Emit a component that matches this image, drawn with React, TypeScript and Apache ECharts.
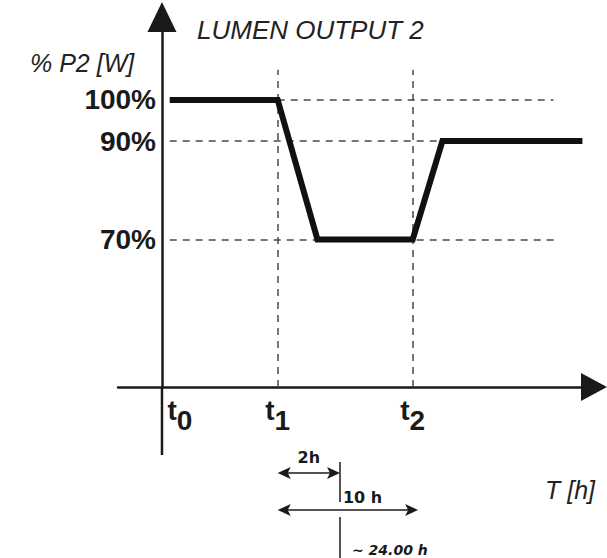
import React, { useEffect, useRef } from 'react';
import * as echarts from 'echarts';

const FONT = '"Liberation Sans", Arial, Helvetica, sans-serif';
const WIDE_FONT = '"DejaVu Sans", Verdana, sans-serif';

// schematic time axis (arbitrary units, t0 = 0)
const timePoints = [0.2, 3, 4.03, 6.5, 7.27, 10.9];
const powerLevels = [100, 100, 70, 70, 90, 90];

const yLabelValues = [70, 90, 100];
const xLabelValues = [0, 3, 6.5];
const xLabelSubs = ['0', '1', '2'];

const refLevelValues = [100, 90, 70];
const refLevelStarts = [3, 0.2, 0.2];
const refLevelEnds = [10.15, 7.27, 10.2];
const refTimeValues = [3, 6.5];
const refTimeTop = 108;

const spanStart = 3;
const spanEnds = [4.615, 6.64];
const spanLabels = ['2h', '10 h'];
const cycleLabel = '~ 24.00 h';

const X_MIN = -1.14;
const X_MAX = 11.2;
const Y_MIN = 48;
const Y_MAX = 123.6;

function arrowHead(tipX: number, y: number, dir: number) {
  const L = 13;
  const H = 6;
  const N = 3;
  return {
    type: 'polygon',
    shape: {
      points: [
        [tipX, y],
        [tipX - dir * L, y - H],
        [tipX - dir * (L - N), y],
        [tipX - dir * L, y + H],
      ],
    },
    style: { fill: '#1a1a1a' },
  };
}

export default function App() {
  const ref = useRef<HTMLDivElement>(null);
  useEffect(() => {
    document.body.style.margin = '0';
    if (!ref.current) return;
    const chart = echarts.init(ref.current, undefined, { renderer: 'svg' });
    const subStyle = {
      fontSize: 28,
      fontWeight: 'bold',
      fontFamily: FONT,
      color: '#1a1a1a',
      padding: [10, 0, 0, 0],
    };
    chart.setOption({
      animation: false,
      backgroundColor: '#ffffff',
      grid: { left: 118, right: 13, top: 17, bottom: 171, containLabel: false, outerBoundsMode: 'none' },
      xAxis: {
        type: 'value',
        min: X_MIN,
        max: X_MAX,
        splitLine: { show: false },
        axisTick: { show: false },
        axisLine: {
          show: true,
          onZero: false,
          lineStyle: { color: '#1a1a1a', width: 2.5 },
          symbol: ['none', 'triangle'],
          symbolSize: [28, 26],
        },
        axisLabel: {
          customValues: xLabelValues,
          margin: 9,
          formatter: (v: number) => {
            let idx = 0;
            let best = Infinity;
            xLabelValues.forEach((xv, i) => {
              if (Math.abs(xv - v) < best) {
                best = Math.abs(xv - v);
                idx = i;
              }
            });
            return (idx === 0 ? '{tz|t}' : '{t|t}') + '{s|' + xLabelSubs[idx] + '}';
          },
          rich: {
            t: { ...subStyle, padding: [0, 0, 10, 0] },
            tz: { ...subStyle, padding: [0, 0, 10, 36] },
            s: subStyle,
          },
        },
      },
      yAxis: {
        type: 'log',
        logBase: 10,
        min: Y_MIN,
        max: Y_MAX,
        splitLine: { show: false },
        axisTick: { show: false },
        axisLine: {
          show: true,
          onZero: true,
          lineStyle: { color: '#1a1a1a', width: 2.5 },
          symbol: ['none', 'triangle'],
          symbolSize: [29, 30],
        },
        axisLabel: {
          customValues: yLabelValues,
          margin: -38,
          fontSize: 28,
          fontWeight: 'bold',
          fontFamily: FONT,
          color: '#1a1a1a',
          formatter: (v: number) => Math.round(v) + '%',
        },
      },
      series: [
        {
          type: 'line',
          data: timePoints.map((t, i) => [t, powerLevels[i]]),
          symbol: 'none',
          z: 5,
          lineStyle: { color: '#111111', width: 6, cap: 'butt', join: 'miter' },
          markLine: {
            silent: true,
            symbol: ['none', 'none'],
            label: { show: false },
            z: 1,
            lineStyle: { color: '#4a4a4a', width: 1.5, type: [7, 6] },
            data: [
              ...refLevelValues.map((v, i) => [
                { coord: [refLevelStarts[i], v] },
                { coord: [refLevelEnds[i], v] },
              ]),
              ...refTimeValues.map((t) => [
                { coord: [t, Y_MIN] },
                { coord: [t, refTimeTop] },
              ]),
            ],
          },
        },
      ],
    });

    const px = (v: number) => chart.convertToPixel({ xAxisIndex: 0 }, v) as number;
    const py = (v: number) => chart.convertToPixel({ yAxisIndex: 0 }, v) as number;
    const x0 = px(0);
    const yBase = py(Y_MIN);
    const xs = px(spanStart);
    const x2h = px(spanEnds[0]);
    const x10h = px(spanEnds[1]);
    const lineStyle = { stroke: '#1a1a1a', lineWidth: 1.5 };
    const textCommon = { fill: '#1a1a1a', fontFamily: FONT };
    const wideText = { fill: '#1a1a1a', fontFamily: WIDE_FONT };

    const graphic: any[] = [
      { type: 'line', shape: { x1: x0, y1: yBase, x2: x0, y2: yBase + 68 }, style: { stroke: '#1a1a1a', lineWidth: 2.5 } },
      { type: 'text', x: 197, y: 30, style: { ...textCommon, text: 'LUMEN OUTPUT 2', fontSize: 26, fontStyle: 'italic', verticalAlign: 'middle', fill: '#222' } },
      { type: 'text', x: 30, y: 63, style: { ...textCommon, text: '% P2 [W]', fontSize: 25, fontStyle: 'italic', verticalAlign: 'middle', fill: '#222' } },
      { type: 'text', x: 545, y: 490, style: { ...textCommon, text: 'T [h]', fontSize: 25, fontStyle: 'italic', verticalAlign: 'middle', fill: '#222' } },
      // 2h span
      { type: 'line', shape: { x1: xs + 4, y1: 473, x2: x2h - 4, y2: 473 }, style: lineStyle },
      arrowHead(xs, 473, -1),
      arrowHead(x2h, 473, 1),
      { type: 'line', shape: { x1: x2h, y1: 462, x2: x2h, y2: 502 }, style: lineStyle },
      { type: 'text', x: (xs + x2h) / 2, y: 457, style: { ...wideText, text: spanLabels[0], fontSize: 16, fontWeight: 'bold', align: 'center', verticalAlign: 'middle' } },
      { type: 'text', x: x2h + 3, y: 497, style: { ...wideText, text: spanLabels[1], fontSize: 16, fontWeight: 'bold', align: 'left', verticalAlign: 'middle' } },
      // 10h span
      { type: 'line', shape: { x1: xs + 4, y1: 510, x2: x10h - 4, y2: 510 }, style: lineStyle },
      arrowHead(xs, 510, -1),
      arrowHead(x10h, 510, 1),
      { type: 'line', shape: { x1: x2h, y1: 517, x2: x2h, y2: 558 }, style: lineStyle },
      { type: 'text', x: x2h + 12, y: 550, style: { ...wideText, text: cycleLabel, fontSize: 14, fontWeight: 'bold', fontStyle: 'italic', align: 'left', verticalAlign: 'middle' } },
    ];
    chart.setOption({ graphic });

    return () => chart.dispose();
  }, []);
  return <div ref={ref} style={{ width: 607, height: 558 }} />;
}
